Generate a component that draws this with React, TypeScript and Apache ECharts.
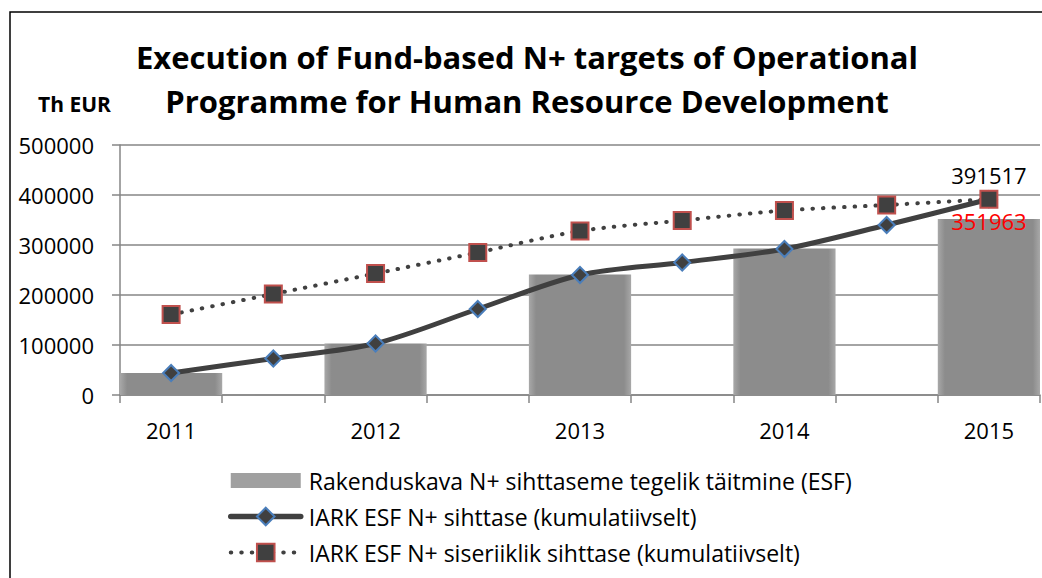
import React, { useEffect, useRef } from "react";
import * as echarts from "echarts";

const categories = ["2011", "", "2012", "", "2013", "", "2014", "", "2015"];
const actualValues: (number | string)[] = [44000, "-", 103000, "-", 241000, "-", 293000, "-", 351963];
const targetValues = [44000, 73000, 103000, 172000, 240000, 265000, 292000, 340000, 391517];
const nationalValues = [161000, 202000, 243000, 285000, 328000, 349000, 369000, 380000, 391517];
const seriesNames = [
  "Rakenduskava N+ sihttaseme tegelik täitmine (ESF)",
  "IARK ESF N+ sihttase (kumulatiivselt)",
  "IARK ESF N+ siseriiklik sihttase (kumulatiivselt)",
];
const titleLines = [
  "Execution of Fund-based N+ targets of Operational",
  "Programme for Human Resource Development",
];
const unitLabel = "Th EUR";

const FONT = "Open Sans";

export default function App() {
  const ref = useRef<HTMLDivElement>(null);
  useEffect(() => {
    if (!ref.current) return;
    const chart = echarts.init(ref.current, null, { renderer: "svg" });
    const lastIdx = categories.length - 1;
    const barGradient = new echarts.graphic.LinearGradient(0, 0, 1, 0, [
      { offset: 0, color: "#a8a8a8" },
      { offset: 0.07, color: "#8c8c8c" },
      { offset: 0.93, color: "#8c8c8c" },
      { offset: 1, color: "#a8a8a8" },
    ]);
    chart.setOption({
      animation: false,
      backgroundColor: "#ffffff",
      textStyle: { fontFamily: FONT },
      graphic: [
        {
          type: "rect",
          shape: { x: 10, y: 12, width: 1100, height: 700 },
          style: { fill: "none", stroke: "#000", lineWidth: 1.5 },
        },
        {
          type: "text",
          x: 527,
          y: 57,
          style: {
            text: titleLines[0],
            font: `bold 31px ${FONT}`,
            fill: "#000",
            textAlign: "center",
            textVerticalAlign: "middle",
          },
        },
        {
          type: "text",
          x: 527,
          y: 101,
          style: {
            text: titleLines[1],
            font: `bold 31px ${FONT}`,
            fill: "#000",
            textAlign: "center",
            textVerticalAlign: "middle",
          },
        },
        {
          type: "text",
          x: 38,
          y: 104,
          style: {
            text: unitLabel,
            font: `bold 21px ${FONT}`,
            fill: "#000",
            textAlign: "left",
            textVerticalAlign: "middle",
          },
        },
      ],
      grid: { left: 120, top: 145, right: 2, bottom: 183, containLabel: false },
      legend: {
        orient: "vertical",
        left: 228,
        top: 469,
        padding: 0,
        itemWidth: 70,
        itemHeight: 22,
        itemGap: 13,
        textStyle: { fontSize: 23, color: "#000", fontFamily: FONT, padding: [0, 0, 0, 3] },
        data: [
          { name: seriesNames[0], icon: "path://M0,0L70,0L70,15L0,15Z", itemStyle: { color: "#a0a0a0" } },
          { name: seriesNames[1], lineStyle: { width: 5.5, color: "#404040", cap: "round" } },
          {
            name: seriesNames[2],
            lineStyle: { width: 4, color: "#404040", type: [0.5, 10], cap: "round" },
          },
        ],
      },
      xAxis: {
        type: "category",
        data: categories,
        boundaryGap: true,
        axisLine: { lineStyle: { color: "#868686", width: 1.5 } },
        axisTick: { show: true, interval: 0, length: 8, lineStyle: { color: "#868686", width: 1.5 } },
        axisLabel: { interval: 0, fontSize: 22, color: "#000", margin: 24, fontFamily: FONT },
        splitLine: { show: false },
      },
      yAxis: {
        type: "value",
        min: 0,
        max: 500000,
        interval: 100000,
        axisLine: { show: true, lineStyle: { color: "#868686", width: 1.5 } },
        axisTick: { show: true, length: 8, lineStyle: { color: "#868686", width: 1.5 } },
        axisLabel: {
          fontSize: 22,
          color: "#000",
          margin: 26,
          fontFamily: FONT,
          formatter: (v: number) => String(v),
        },
        splitLine: { show: true, lineStyle: { color: "#868686", width: 1.5 } },
      },
      series: [
        {
          name: seriesNames[0],
          type: "bar",
          data: actualValues,
          barWidth: "100%",
          barGap: "0%",
          itemStyle: { color: barGradient },
          label: {
            show: true,
            position: ["50%", -9],
            align: "center",
            verticalAlign: "top",
            color: "#ff0000",
            fontSize: 22,
            fontFamily: FONT,
            formatter: (p: any) => (p.dataIndex === lastIdx ? String(p.value) : ""),
          },
          z: 1,
        },
        {
          name: seriesNames[1],
          type: "line",
          data: targetValues,
          smooth: 0.3,
          symbol: "diamond",
          symbolSize: 16,
          lineStyle: { color: "#404040", width: 5 },
          itemStyle: { color: "#404040", borderColor: "#4a7ebb", borderWidth: 2 },
          z: 3,
        },
        {
          name: seriesNames[2],
          type: "line",
          data: nationalValues,
          smooth: 0.3,
          symbol: "rect",
          symbolSize: 17,
          lineStyle: { color: "#404040", width: 4, type: [0.5, 10], cap: "round" },
          itemStyle: { color: "#404040", borderColor: "#c0504d", borderWidth: 2 },
          label: {
            show: true,
            position: "top",
            distance: 4,
            color: "#000",
            fontSize: 22,
            fontFamily: FONT,
            formatter: (p: any) => (p.dataIndex === lastIdx ? String(p.value) : ""),
          },
          z: 4,
        },
      ],
    });
    return () => chart.dispose();
  }, []);
  return (
    <div
      ref={ref}
      style={{ position: "fixed", left: 0, top: 0, width: 1042, height: 578, background: "#fff" }}
    />
  );
}
